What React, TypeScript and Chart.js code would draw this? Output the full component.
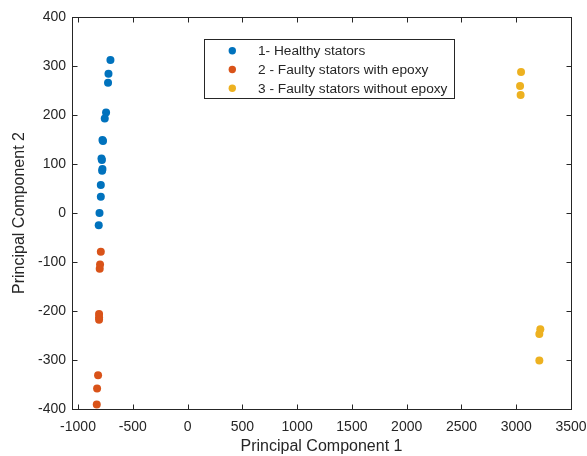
import React, { useEffect, useRef } from "react";
import { Chart, registerables } from "chart.js";

Chart.register(...registerables);

// ---- data ----
const healthyX = [-704, -722, -726, -744, -756, -777, -772, -786, -782, -777, -780, -792, -792, -804, -811];
const healthyY = [312, 284, 266, 205, 193, 149, 147, 111, 108, 90, 86, 57, 33, 0, -25];

const epoxyX = [-792, -799, -802, -808, -808, -808, -817, -826, -829];
const epoxyY = [-79, -105, -114, -206, -213, -218, -331, -358, -391];

const noEpoxyX = [3044, 3035, 3040, 3220, 3211, 3211];
const noEpoxyY = [288, 259, 241, -237, -247, -301];

const seriesLabels = [
  "1- Healthy stators",
  "2 - Faulty stators with epoxy",
  "3 - Faulty stators without epoxy",
];
const seriesColors = ["#0072BD", "#D95319", "#EDB120"];

const xTickValues = [-1000, -500, 0, 500, 1000, 1500, 2000, 2500, 3000, 3500];
const yTickValues = [-400, -300, -200, -100, 0, 100, 200, 300, 400];
const xRange = [-1055, 3500];
const yRange = [-400, 400];

const FONT = "'Liberation Sans', Arial, Helvetica, sans-serif";
const INK = "#262626";

const toPoints = (xs: number[], ys: number[]) => xs.map((x, i) => ({ x, y: ys[i] }));

const boxPlugin = {
  id: "matlabBox",
  afterDatasetsDraw(chart: any) {
    const { ctx, chartArea, scales } = chart;
    const { left, right, top, bottom } = chartArea;
    ctx.save();
    ctx.strokeStyle = INK;
    ctx.lineWidth = 1;
    const L = Math.round(left) + 0.5;
    const R = Math.round(right) + 0.5;
    const T = Math.round(top) + 0.5;
    const B = Math.round(bottom) + 0.5;
    ctx.strokeRect(L, T, R - L, B - T);
    const tl = 5;
    ctx.beginPath();
    xTickValues.forEach((v) => {
      const px = Math.round(scales.x.getPixelForValue(v)) + 0.5;
      ctx.moveTo(px, B);
      ctx.lineTo(px, B - tl);
      ctx.moveTo(px, T);
      ctx.lineTo(px, T + tl);
    });
    yTickValues.forEach((v) => {
      const py = Math.round(scales.y.getPixelForValue(v)) + 0.5;
      ctx.moveTo(L, py);
      ctx.lineTo(L + tl, py);
      ctx.moveTo(R, py);
      ctx.lineTo(R - tl, py);
    });
    ctx.stroke();

    // legend box
    const lx = 204.5, ly = 39.5, lw = 250, lh = 59;
    ctx.fillStyle = "#ffffff";
    ctx.fillRect(lx, ly, lw, lh);
    ctx.strokeStyle = INK;
    ctx.strokeRect(lx, ly, lw, lh);
    ctx.font = `13.7px ${FONT}`;
    ctx.textBaseline = "middle";
    ctx.textAlign = "left";
    chart.data.datasets.forEach((ds: any, i: number) => {
      const cy = 50.7 + i * 18.8;
      ctx.fillStyle = ds.backgroundColor;
      ctx.beginPath();
      ctx.arc(232.3, cy, 3.7, 0, Math.PI * 2);
      ctx.fill();
      ctx.fillStyle = INK;
      ctx.fillText(ds.label, 258, cy + 0.5);
    });
    ctx.restore();
  },
};

export default function App() {
  const ref = useRef<HTMLCanvasElement>(null);
  useEffect(() => {
    if (!ref.current) return;
    const chart = new Chart(ref.current, {
      type: "scatter",
      data: {
        datasets: [
          { label: seriesLabels[0], data: toPoints(healthyX, healthyY), backgroundColor: seriesColors[0] },
          { label: seriesLabels[1], data: toPoints(epoxyX, epoxyY), backgroundColor: seriesColors[1] },
          { label: seriesLabels[2], data: toPoints(noEpoxyX, noEpoxyY), backgroundColor: seriesColors[2] },
        ].map((d) => ({ ...d, pointRadius: 4, pointBorderWidth: 0, borderWidth: 0, pointHoverRadius: 4 })),
      },
      options: {
        animation: false,
        responsive: false,
        devicePixelRatio: 1,
        layout: { padding: { left: 0, top: 17, right: 16, bottom: 0 } },
        plugins: { legend: { display: false }, tooltip: { enabled: false } },
        scales: {
          x: {
            type: "linear",
            min: xRange[0],
            max: xRange[1],
            grid: { display: false, drawTicks: false, tickLength: 0 },
            border: { display: false },
            afterBuildTicks: (s: any) => {
              s.ticks = xTickValues.map((v) => ({ value: v }));
            },
            afterFit: (s: any) => {
              s.height = 47;
              s.paddingLeft = 0;
              s.paddingRight = 0;
            },
            ticks: {
              autoSkip: false,
              maxRotation: 0,
              padding: 10,
              color: INK,
              font: { family: FONT, size: 14 },
              callback: (v: any) => String(v),
            },
            title: {
              display: true,
              text: "Principal Component 1",
              color: INK,
              font: { family: FONT, size: 16 },
              padding: { top: 0, bottom: 0 },
            },
          },
          y: {
            type: "linear",
            min: yRange[0],
            max: yRange[1],
            grid: { display: false, drawTicks: false, tickLength: 0 },
            border: { display: false },
            afterBuildTicks: (s: any) => {
              s.ticks = yTickValues.map((v) => ({ value: v }));
            },
            afterFit: (s: any) => {
              s.width = 72;
              s.paddingTop = 0;
              s.paddingBottom = 0;
            },
            ticks: {
              autoSkip: false,
              padding: 6,
              color: INK,
              font: { family: FONT, size: 14 },
              callback: (v: any) => String(v),
            },
            title: {
              display: true,
              text: "Principal Component 2",
              color: INK,
              font: { family: FONT, size: 16 },
              padding: { top: 10, bottom: 0 },
            },
          },
        },
      } as any,
      plugins: [boxPlugin],
    });
    return () => chart.destroy();
  }, []);
  return (
    <div style={{ position: "fixed", left: 0, top: 0, width: 587, height: 456, background: "#fff" }}>
      <canvas ref={ref} width={587} height={456} />
    </div>
  );
}
